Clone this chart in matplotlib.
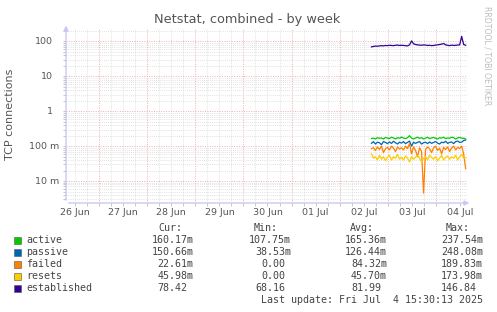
#!/usr/bin/env python3
# -*- coding: utf-8 -*-
"""Munin style 'Netstat, combined - by week' graph, redrawn with matplotlib."""
import numpy as np
import matplotlib
matplotlib.use('Agg')
import matplotlib.pyplot as plt
from matplotlib.patches import Rectangle
from matplotlib.ticker import FixedLocator, NullFormatter

# ---- data ------------------------------------------------------------------
# x axis in days since 26 Jun 00:00, samples every hour from 02 Jul ~16:00
START_DAY = 6.66
STEP_DAY = 1.0 / 24

established = [70, 72, 74, 73, 75, 76, 75, 77, 76, 78, 77, 76,
               78, 79, 77, 78, 77, 76, 75, 80, 104, 86, 82, 80,
               79, 78, 80, 79, 77, 78, 76, 77, 79, 80, 82, 84,
               88, 80, 78, 76, 79, 77, 78, 79, 80, 140, 82, 78]
active = [0.165, 0.17, 0.16, 0.175, 0.168, 0.172, 0.16, 0.178, 0.17, 0.165, 0.18, 0.172,
          0.16, 0.175, 0.168, 0.182, 0.17, 0.165, 0.175, 0.2, 0.17, 0.16, 0.172, 0.18,
          0.168, 0.175, 0.16, 0.17, 0.18, 0.165, 0.172, 0.178, 0.168, 0.16, 0.175, 0.17,
          0.18, 0.165, 0.172, 0.168, 0.18, 0.175, 0.16, 0.172, 0.178, 0.168, 0.17, 0.16]
passive = [0.12, 0.135, 0.115, 0.13, 0.125, 0.11, 0.135, 0.128, 0.118, 0.132, 0.12, 0.138,
           0.125, 0.115, 0.13, 0.122, 0.135, 0.118, 0.128, 0.14, 0.1, 0.13, 0.12, 0.128,
           0.135, 0.115, 0.125, 0.13, 0.118, 0.132, 0.12, 0.128, 0.135, 0.122, 0.115, 0.13,
           0.125, 0.138, 0.12, 0.128, 0.132, 0.118, 0.135, 0.14, 0.128, 0.13, 0.145, 0.15]
failed = [0.085, 0.09, 0.075, 0.095, 0.08, 0.1, 0.065, 0.085, 0.092, 0.078, 0.1, 0.088,
          0.07, 0.095, 0.082, 0.09, 0.078, 0.1, 0.085, 0.12, 0.06, 0.095, 0.075, 0.05,
          0.09, 0.07, 0.0045, 0.08, 0.095, 0.085, 0.065, 0.09, 0.1, 0.075, 0.088, 0.06,
          0.092, 0.08, 0.095, 0.07, 0.088, 0.1, 0.078, 0.092, 0.085, 0.1, 0.06, 0.0226]
resets = [0.06, 0.045, 0.05, 0.04, 0.055, 0.042, 0.05, 0.038, 0.048, 0.055, 0.04, 0.05,
          0.045, 0.058, 0.042, 0.048, 0.04, 0.052, 0.045, 0.035, 0.05, 0.042, 0.048, 0.055,
          0.045, 0.035, 0.045, 0.05, 0.04, 0.055, 0.048, 0.042, 0.05, 0.038, 0.045, 0.055,
          0.04, 0.048, 0.052, 0.042, 0.05, 0.045, 0.055, 0.04, 0.05, 0.058, 0.045, 0.046]

day_labels = ['26 Jun', '27 Jun', '28 Jun', '29 Jun', '30 Jun',
              '01 Jul', '02 Jul', '03 Jul', '04 Jul']
y_ticks = [100, 10, 1, 0.1, 0.01]
y_tick_labels = ['100', '10', '1', '100 m', '10 m']

series_names = ['active', 'passive', 'failed', 'resets', 'established']
series_colors = ['#00cc00', '#0066b3', '#ff8000', '#ffcc00', '#330099']
cur_vals = ['160.17m', '150.66m', '22.61m', '45.98m', '78.42']
min_vals = ['107.75m', '38.53m', '0.00', '0.00', '68.16']
avg_vals = ['165.36m', '126.44m', '84.32m', '45.70m', '81.99']
max_vals = ['237.54m', '248.08m', '189.83m', '173.98m', '146.84']

# ---- figure ------------------------------------------------------------------
W, H = 497, 312
fig = plt.figure(figsize=(W / 100, H / 100), dpi=100, facecolor='white')

PX_L, PX_R, PX_T, PX_B = 66, 467, 28, 203
ax = fig.add_axes([PX_L / W, 1 - PX_B / H, (PX_R - PX_L) / W, (PX_B - PX_T) / H])
ax.set_facecolor('white')

x_min, x_max = 0.3125, 8.646
ax.set_xlim(x_min, x_max)
ax.set_yscale('log')
ax.set_ylim(10 ** -2.63, 10 ** 2.387)

for s in ax.spines.values():
    s.set_visible(False)

# grid: red dotted at midnights / decades, gray dotted at 6 h / 2..9
mgrid = '#eab0b0'
grid_c = '#d8d8d8'
ax.xaxis.set_major_locator(FixedLocator(np.arange(1, 9)))
ax.xaxis.set_minor_locator(FixedLocator([d + q for d in range(0, 9) for q in (0.25, 0.5, 0.75)]))
ax.yaxis.set_major_locator(FixedLocator([10.0 ** k for k in range(-2, 3)]))
ax.yaxis.set_minor_locator(FixedLocator([m * 10.0 ** k for k in range(-3, 3) for m in range(2, 10)]))
ax.xaxis.set_major_formatter(NullFormatter())
ax.xaxis.set_minor_formatter(NullFormatter())
ax.yaxis.set_major_formatter(NullFormatter())
ax.yaxis.set_minor_formatter(NullFormatter())
ax.grid(True, which='minor', color=grid_c, linestyle=(0, (1, 1.5)), linewidth=0.6)
ax.grid(True, which='major', color=mgrid, linestyle=(0, (1, 1.5)), linewidth=0.7)
ax.tick_params(which='major', length=2, width=0.7, color=mgrid)
ax.tick_params(which='minor', length=2, width=0.6, color='#bbbbbb')
ax.set_axisbelow(True)

# axes with arrows
axis_c = '#c8c8f4'
ax.annotate('', xy=(1.013, 0), xytext=(0, 0), xycoords='axes fraction',
            arrowprops=dict(arrowstyle='-|>', color=axis_c, lw=1.0, mutation_scale=7),
            annotation_clip=False)
ax.annotate('', xy=(0, 1.03), xytext=(0, 0), xycoords='axes fraction',
            arrowprops=dict(arrowstyle='-|>', color=axis_c, lw=1.0, mutation_scale=7),
            annotation_clip=False)

# series
x = START_DAY + STEP_DAY * np.arange(len(active))
for vals, c in zip([active, passive, failed, resets, established], series_colors):
    ax.plot(x, vals, color=c, linewidth=0.9, zorder=3)

# tick labels
txt_c = '#555555'
for i, lab in enumerate(day_labels):
    ax.text(i + 0.5, -0.055, lab, transform=ax.get_xaxis_transform(),
            ha='center', va='center', fontsize=6.8, color=txt_c)
for v, lab in zip(y_ticks, y_tick_labels):
    off = -7 if lab.endswith('m') else -13
    ax.annotate(lab, xy=(0, v), xycoords=ax.get_yaxis_transform(),
                xytext=(off * 0.72, 0), textcoords='offset points',
                ha='right', va='center', fontsize=6.8, color=txt_c)

fig.text(247 / W, 1 - 20 / H, 'Netstat, combined - by week', ha='center', va='center',
         fontsize=9.3, color=txt_c)
fig.text(10 / W, 1 - 114 / H, 'TCP connections', ha='center', va='center',
         rotation=90, fontsize=8, color=txt_c)
fig.text(487 / W, 1 - 56 / H, 'RRDTOOL / TOBI OETIKER', ha='center', va='center',
         rotation=270, fontsize=5.6, color='#bdbdbd')

# legend table (monospace)
mono = 'DejaVu Sans Mono'
fs = 7.2
cw = 6.0  # char width in px
leg_c = '#444444'


def ftext(xp, yp, s, ha='left'):
    fig.text(xp / W, 1 - yp / H, s, ha=ha, va='center', fontsize=fs,
             family=mono, color=leg_c)


for xp, hdr in zip([182, 278, 374, 470], ['Cur:', 'Min:', 'Avg:', 'Max:']):
    ftext(xp, 228, hdr, ha='right')

rows_y = [240, 252, 264, 276, 288]
col_r = [193.5, 291, 387, 483]
for k, name in enumerate(series_names):
    yp = rows_y[k]
    fig.add_artist(Rectangle((14 / W, 1 - (yp + 3.5) / H), 6.5 / W, 6.5 / H,
                             transform=fig.transFigure, facecolor=series_colors[k],
                             edgecolor='#555555', linewidth=0.4))
    ftext(26, yp, name)
    for cr, col in zip(col_r, [cur_vals, min_vals, avg_vals, max_vals]):
        s = col[k]
        xr = cr if s.endswith('m') else cr - cw
        ftext(xr, yp, s, ha='right')

ftext(483, 300, 'Last update: Fri Jul  4 15:30:13 2025', ha='right')

fig.savefig('out.png', dpi=100, facecolor='white')
